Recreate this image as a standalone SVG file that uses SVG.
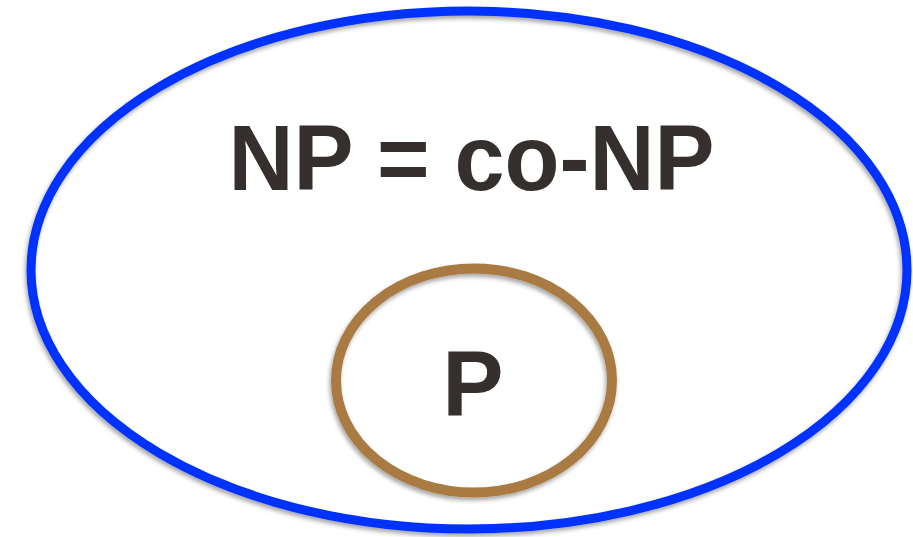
<svg xmlns="http://www.w3.org/2000/svg" width="913" height="537" viewBox="0 0 913 537">
  <defs>
    <filter id="sh" x="-10%" y="-10%" width="120%" height="120%">
      <feDropShadow dx="-1.5" dy="3" stdDeviation="2" flood-color="#000" flood-opacity="0.35"/>
    </filter>
  </defs>
  <style>
    .lbl { font-family: "Liberation Sans", Arial, sans-serif; font-weight: bold; fill: #35302d; text-anchor: middle; }
  </style>
  <rect width="913" height="537" fill="#ffffff"/>
  <g id="np">
    <ellipse cx="469" cy="270" rx="438" ry="259" fill="none" stroke="#0433ff" stroke-width="9" filter="url(#sh)"/>
    <text class="lbl" x="471.5" y="190" font-size="93" textLength="486" lengthAdjust="spacingAndGlyphs">NP = co-NP</text>
  </g>
  <g id="p">
    <ellipse cx="474" cy="380.5" rx="138" ry="112" fill="none" stroke="#a97a43" stroke-width="10" filter="url(#sh)"/>
    <text class="lbl" x="473" y="416" font-size="92">P</text>
  </g>
  <g id="connectors"></g>
</svg>
